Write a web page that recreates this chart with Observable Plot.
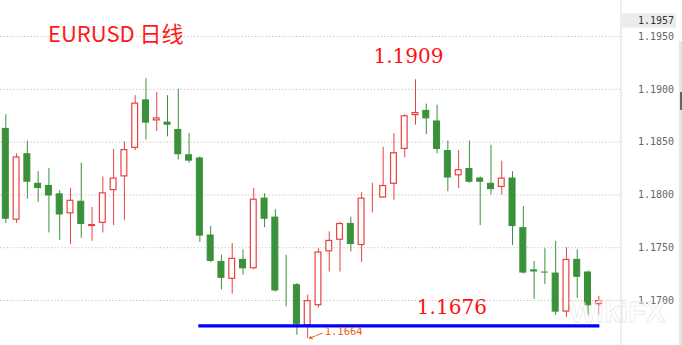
<!DOCTYPE html>
<html>
<head>
<meta charset="utf-8">
<script src="https://cdn.jsdelivr.net/npm/d3@7"></script>
<script src="https://cdn.jsdelivr.net/npm/@observablehq/plot@0.6"></script>
<style>
  html, body { margin: 0; padding: 0; background: #fff; }
  #wrap { position: relative; width: 682px; height: 345px; overflow: hidden; }
  #title { position: absolute; left: 48px; top: 19px; font-family: "Noto Sans CJK SC", "Liberation Sans", sans-serif; font-size: 22px; line-height: 26px; color: #ff1a1a; white-space: nowrap; }
  #wm { position: absolute; left: 569px; top: 298px; font-family: "Liberation Sans", sans-serif; font-weight: bold; font-size: 29px; line-height: 29px; color: rgba(255,255,255,0.5); -webkit-text-stroke: 0.8px rgba(200,200,200,0.4); white-space: nowrap; pointer-events: none; }
  #sb { position: absolute; left: 679px; top: 41px; width: 3px; height: 304px; background: #e6e6e6; }
  #sbk { position: absolute; left: 680px; top: 92px; width: 2px; height: 18px; background: #666; }
</style>
</head>
<body>
<div id="wrap">
  <div id="chart"></div>
  <div id="title">EURUSD 日线</div>
  <div id="wm">WikiFX</div>
  <div id="sb"></div><div id="sbk"></div>
</div>
<script>
const opens  = [1.1863,1.1776,1.1839,1.1811,1.1809,1.1801,1.1782,1.1794,1.1770,1.1773,1.1804,1.1817,1.1844,1.1890,1.1870,1.1869,1.1862,1.1838,1.1835,1.1762,1.1737,1.1720,1.1739,1.1730,1.1797,1.1779,1.1710,1.1715,1.1676,1.1695,1.1746,1.1757,1.1773,1.1752,1.1796,1.1797,1.1810,1.1843,1.1875,1.1880,1.1870,1.1842,1.1818,1.1825,1.1816,1.1811,1.1807,1.1816,1.1769,1.1729,1.1727,1.1726,1.1689,1.1739,1.1727,1.1696];
const highs  = [1.1876,1.1839,1.1851,1.1822,1.1825,1.1804,1.1806,1.1830,1.1788,1.1817,1.1843,1.1850,1.1894,1.1910,1.1897,1.1894,1.1900,1.1858,1.1836,1.1770,1.1743,1.1754,1.1748,1.1806,1.1801,1.1786,1.1743,1.1716,1.1705,1.1749,1.1765,1.1774,1.1779,1.1802,1.1811,1.1845,1.1858,1.1876,1.1909,1.1886,1.1885,1.1851,1.1842,1.1851,1.1817,1.1847,1.1832,1.1822,1.1789,1.1737,1.1749,1.1756,1.1750,1.1748,1.1728,1.1704];
const lows   = [1.1773,1.1773,1.1796,1.1793,1.1764,1.1757,1.1753,1.1759,1.1756,1.1764,1.1771,1.1776,1.1842,1.1852,1.1860,1.1855,1.1833,1.1830,1.1755,1.1736,1.1710,1.1706,1.1724,1.1729,1.1769,1.1708,1.1694,1.1667,1.1664,1.1693,1.1727,1.1727,1.1746,1.1736,1.1783,1.1797,1.1795,1.1835,1.1866,1.1857,1.1839,1.1803,1.1806,1.1811,1.1771,1.1800,1.1800,1.1752,1.1725,1.1701,1.1715,1.1686,1.1684,1.1702,1.1686,1.1686];
const closes = [1.1777,1.1836,1.1812,1.1806,1.1799,1.1781,1.1795,1.1772,1.1772,1.1802,1.1816,1.1843,1.1887,1.1868,1.1873,1.1866,1.1838,1.1832,1.1761,1.1737,1.1721,1.1740,1.1730,1.1796,1.1777,1.1709,1.1710,1.1677,1.1700,1.1746,1.1757,1.1773,1.1753,1.1797,1.1797,1.1809,1.1840,1.1875,1.1878,1.1872,1.1843,1.1816,1.1824,1.1812,1.1812,1.1805,1.1816,1.1770,1.1726,1.1727,1.1726,1.1689,1.1739,1.1722,1.1695,1.1700];
const yTicks = [1.1700, 1.1750, 1.1800, 1.1850, 1.1900, 1.1950];
const lastPrice = 1.1957;
const supportLevel = 1.1676;
const supportFrom = 18, supportTo = 55;
const peakIndex = 38;   // candle with the 1.1909 high
const lowIndex = 28;    // candle with the 1.1664 low

const RED = "#e8413f", GREEN = "#3a913a", BLUE = "#0000ff", ORANGE = "#e8620c";

const candles = opens.map((o, i) => ({i, o, h: highs[i], l: lows[i], c: closes[i], up: closes[i] > o}));
const ups = candles.filter(d => d.up), downs = candles.filter(d => !d.up);
const W = 0.325;

const chart = Plot.plot({
  width: 682, height: 345,
  marginLeft: 0, marginRight: 61.5, marginTop: 0, marginBottom: 0,
  x: {type: "linear", domain: [0, 55], range: [5.3, 598.3], axis: null},
  y: {domain: [1.16574, 1.19841], axis: null},
  marks: [
    Plot.gridY(yTicks, {stroke: "#c4c4c4", strokeOpacity: 1, strokeDasharray: "1.3,2.1"}),
    Plot.frame({anchor: "right", stroke: "#dcdcdc"}),
    Plot.axisY(yTicks, {anchor: "right", tickSize: 0, tickPadding: 17, label: null,
      tickFormat: d => d.toFixed(4), fontSize: 10, fontFamily: "DejaVu Sans Mono", fill: "#666"}),
    Plot.rect([lastPrice], {x1: 57.21, x2: 62.2, y1: d => d + 0.0001, y2: d => d + 0.00145, fill: "#ececec"}),
    Plot.text([lastPrice], {y: d => d, frameAnchor: "right", textAnchor: "start", dx: 17, dy: -8,
      text: d => d.toFixed(4), fontSize: 10, fontFamily: "DejaVu Sans Mono", fill: "#333"}),
    Plot.ruleX(candles, {x: "i", y1: "l", y2: "h", stroke: d => d.up ? RED : GREEN, strokeWidth: 1}),
    Plot.rect(downs, {x1: d => d.i - W, x2: d => d.i + W, y1: "o", y2: "c", fill: GREEN, stroke: GREEN, strokeWidth: 1, inset: 0.5}),
    Plot.rect(ups, {x1: d => d.i - W, x2: d => d.i + W, y1: "o", y2: "c", fill: "#fff", stroke: RED, strokeWidth: 1.2, inset: 0.6}),
    Plot.ruleY([supportLevel], {x1: supportFrom - 0.1, x2: supportTo + 0.1, stroke: BLUE, strokeWidth: 3.4}),
    Plot.text([candles[peakIndex]], {x: "i", y: "h", text: d => d.h.toFixed(4), dx: -7, dy: -23,
      fontSize: 20, fontFamily: "DejaVu Serif", fill: "#ff1010"}),
    Plot.text([supportLevel], {x: 41, y: d => d, text: d => d.toFixed(4), dx: 4, dy: -18,
      fontSize: 20, fontFamily: "DejaVu Serif", fill: "#ff1010"}),
    Plot.arrow([candles[lowIndex]], {x1: d => d.i + 1.35, y1: d => d.l + 0.0005, x2: d => d.i + 0.15, y2: d => d.l + 0.00003,
      stroke: ORANGE, strokeWidth: 1, headLength: 5, strokeDasharray: "6,1.5"}),
    Plot.text([candles[lowIndex]], {x: "i", y: "l", text: d => d.l.toFixed(4), dx: 17, dy: -7, textAnchor: "start",
      fontSize: 10.5, fontFamily: "DejaVu Sans Mono", fill: ORANGE})
  ]
});
document.getElementById("chart").appendChild(chart);
</script>
</body>
</html>
